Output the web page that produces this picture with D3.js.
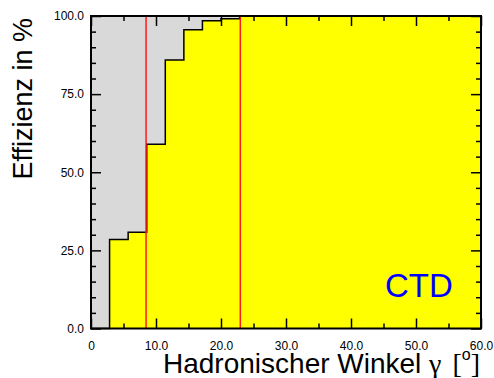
<!DOCTYPE html>
<html>
<head>
<meta charset="utf-8">
<script src="https://cdn.jsdelivr.net/npm/d3@7"></script>
<style>
  body { margin: 0; background: #fff; }
  text { font-family: "Liberation Sans", Arial, sans-serif; }
</style>
</head>
<body>
<div id="chart"></div>
<script>
var W = 494, H = 378;
var margin = {top: 16, right: 13, bottom: 49.5, left: 91};

// data
var binLow = 0, binHigh = 60, nBins = 21;
var efficiency = [0, 28.5, 30.8, 59.0, 85.9, 95.6, 98.5, 99.1, 100, 100, 100,
                  100, 100, 100, 100, 100, 100, 100, 100, 100, 100];
var cutLines = [8.47, 22.97];
var xTickLabels = ["0", "10.0", "20.0", "30.0", "40.0", "50.0", "60.0"];
var yTickLabels = ["0.0", "25.0", "50.0", "75.0", "100.0"];

var x = d3.scaleLinear().domain([binLow, binHigh]).range([margin.left, W - margin.right]);
var y = d3.scaleLinear().domain([0, 100]).range([H - margin.bottom, margin.top]);

var svg = d3.select("#chart").append("svg")
    .attr("width", W)
    .attr("height", H);

// plot background
svg.append("rect")
    .attr("x", x(0)).attr("y", y(100))
    .attr("width", x(60) - x(0)).attr("height", y(0) - y(100))
    .attr("fill", "#d9d9d9");

// histogram
var bw = (binHigh - binLow) / nBins;
var pts = efficiency.map(function(v, i) { return [binLow + i * bw, v]; });
pts.push([binHigh, efficiency[efficiency.length - 1]]);

var area = d3.area()
    .x(function(d) { return x(d[0]); })
    .y0(y(0))
    .y1(function(d) { return y(d[1]); })
    .curve(d3.curveStepAfter);
var line = d3.line()
    .x(function(d) { return x(d[0]); })
    .y(function(d) { return y(d[1]); })
    .curve(d3.curveStepAfter);

svg.append("path").datum(pts).attr("d", area).attr("fill", "#ffff00");
svg.append("path").datum(pts).attr("d", line)
    .attr("fill", "none").attr("stroke", "#000").attr("stroke-width", 1.5);

// cut lines
svg.selectAll(".cut").data(cutLines).enter().append("line")
    .attr("class", "cut")
    .attr("x1", function(d) { return x(d); }).attr("x2", function(d) { return x(d); })
    .attr("y1", y(0)).attr("y2", y(100))
    .attr("stroke", "#ff1a1a").attr("stroke-width", 1.5);

// axes
var xMajor = d3.range(0, 61, 10), xMinor = d3.range(5, 60, 10);
var yMajor = d3.range(0, 101, 25), yMinor = d3.range(0, 101, 5).filter(function(v) { return v % 25; });

function styleAxis(g) {
  g.select(".domain").remove();
  g.selectAll(".tick line").attr("stroke", "#000").attr("stroke-width", 1.5);
  g.selectAll("text").attr("font-size", 12).attr("fill", "#000")
    .attr("font-family", "Liberation Sans, Arial, sans-serif");
}

svg.append("g").attr("transform", "translate(0," + y(0) + ")")
   .call(d3.axisBottom(x).tickValues(xMajor).tickSize(-10).tickPadding(13)
         .tickFormat(function(d, i) { return xTickLabels[i]; }))
   .call(styleAxis);
svg.append("g").attr("transform", "translate(0," + y(0) + ")")
   .call(d3.axisBottom(x).tickValues(xMinor).tickSize(-5).tickFormat(""))
   .call(styleAxis);
svg.append("g").attr("transform", "translate(0," + y(100) + ")")
   .call(d3.axisTop(x).tickValues(xMajor).tickSize(-10).tickFormat(""))
   .call(styleAxis);
svg.append("g").attr("transform", "translate(0," + y(100) + ")")
   .call(d3.axisTop(x).tickValues(xMinor).tickSize(-5).tickFormat(""))
   .call(styleAxis);

svg.append("g").attr("transform", "translate(" + x(0) + ",0)")
   .call(d3.axisLeft(y).tickValues(yMajor).tickSize(-10).tickPadding(7)
         .tickFormat(function(d, i) { return yTickLabels[i]; }))
   .call(styleAxis);
svg.append("g").attr("transform", "translate(" + x(0) + ",0)")
   .call(d3.axisLeft(y).tickValues(yMinor).tickSize(-5).tickFormat(""))
   .call(styleAxis);
svg.append("g").attr("transform", "translate(" + x(60) + ",0)")
   .call(d3.axisRight(y).tickValues(yMajor).tickSize(-10).tickFormat(""))
   .call(styleAxis);
svg.append("g").attr("transform", "translate(" + x(60) + ",0)")
   .call(d3.axisRight(y).tickValues(yMinor).tickSize(-5).tickFormat(""))
   .call(styleAxis);

// frame
svg.append("rect")
    .attr("x", x(0)).attr("y", y(100))
    .attr("width", x(60) - x(0)).attr("height", y(0) - y(100))
    .attr("fill", "none").attr("stroke", "#000").attr("stroke-width", 2);

// label in plot
svg.append("text")
    .attr("x", 385).attr("y", 297)
    .attr("font-size", 33).attr("fill", "#0000ff")
    .text("CTD");

// x title
var xt = svg.append("text")
    .attr("x", 163).attr("y", 372.5)
    .attr("font-size", 28).attr("fill", "#000");
xt.append("tspan").text("Hadronischer Winkel ");
xt.append("tspan").attr("font-family", "Liberation Serif, serif").text("\u03b3 ");
xt.append("tspan").attr("font-family", "Liberation Serif, serif").attr("dx", 4).text("[");
xt.append("tspan").attr("font-size", 16).attr("dy", -13).text("o");
xt.append("tspan").attr("font-family", "Liberation Serif, serif").attr("dy", 13).text("]");

// y title
svg.append("text")
    .attr("transform", "translate(32,18) rotate(-90)")
    .attr("text-anchor", "end")
    .attr("font-size", 27).attr("fill", "#000")
    .text("Effizienz in %");
</script>
</body>
</html>
